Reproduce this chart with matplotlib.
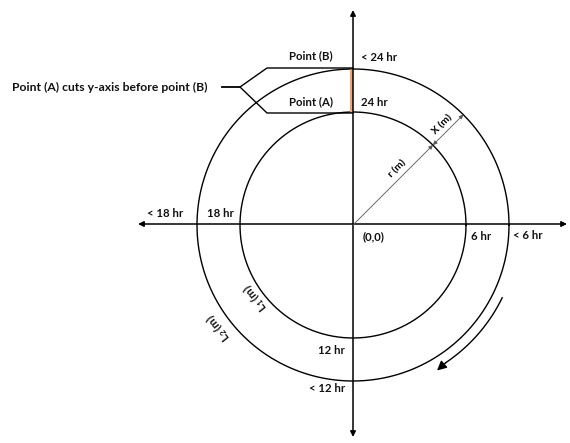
import numpy as np
import matplotlib
matplotlib.use('Agg')
import matplotlib.pyplot as plt

# circle radii (inner = 24 hr orbit, outer = < 24 hr orbit)
radii = [113, 156]
inner_hours = ['24 hr', '6 hr', '12 hr', '18 hr']
outer_hours = ['< 24 hr', '< 6 hr', '< 12 hr', '< 18 hr']
point_labels = ['Point (B)', 'Point (A)']
bracket_note = 'Point (A) cuts y-axis before point (B)'
arc_labels = ['L$_1$ (m)', 'L$_2$ (m)']
origin_label = '(0,0)'

plt.rcParams['font.family'] = ['Lato', 'DejaVu Sans']
plt.rcParams['mathtext.fontset'] = 'custom'
plt.rcParams['mathtext.rm'] = 'Lato:bold'
plt.rcParams['mathtext.it'] = 'Lato:bold'
FS = 8.2

fig = plt.figure(figsize=(5.7, 4.43), dpi=100)
ax = fig.add_axes([0, 0, 1, 1])
ax.set_xlim(-353, 217)
ax.set_ylim(-218, 225)
ax.set_aspect('equal')
ax.axis('off')

t = np.linspace(0, 2 * np.pi, 400)
for r in radii:
    ax.plot(r * np.cos(t), r * np.sin(t), color='black', lw=1.0)

# axes with arrows
ax.annotate('', xy=(214, 1), xytext=(-215, 1),
            arrowprops=dict(arrowstyle='<|-|>', mutation_scale=8, lw=1.1, color='black', shrinkA=0, shrinkB=0))
ax.annotate('', xy=(0, 215), xytext=(0, -212),
            arrowprops=dict(arrowstyle='<|-|>', mutation_scale=8, lw=1.1, color='black', shrinkA=0, shrinkB=0))

# orange gap between A and B
ax.plot([-2, -2], [radii[0], radii[1]], color='#f2a677', lw=2.2, solid_capstyle='butt')

# radius and X
c45 = np.cos(np.pi / 4)
ax.annotate('', xy=(radii[0] * c45, radii[0] * c45), xytext=(0, 0),
            arrowprops=dict(arrowstyle='-|>', mutation_scale=6, lw=0.6, color='#555555', shrinkA=0, shrinkB=0))
ax.annotate('', xy=(radii[1] * c45, radii[1] * c45), xytext=(radii[0] * c45, radii[0] * c45),
            arrowprops=dict(arrowstyle='<|-|>', mutation_scale=6, lw=0.6, color='#555555', shrinkA=0, shrinkB=0))
def along(d, p):
    return d * c45 - p * c45, d * c45 + p * c45
x, y = along(71, 8)
ax.text(x, y, 'r (m)', rotation=45, ha='center', va='center', fontsize=FS - 0.7, fontweight='bold')
x, y = along(134, 8)
ax.text(x, y, 'X (m)', rotation=45, ha='center', va='center', fontsize=FS - 0.7, fontweight='bold')

# hour labels
txt = dict(fontsize=FS, fontweight='bold', color='#111111')
ri, ro = radii
ax.text(8, ri + 10, inner_hours[0], ha='left', va='center', **txt)
ax.text(8, ro + 12, outer_hours[0], ha='left', va='center', **txt)
ax.text(ri + 5, -11, inner_hours[1], ha='left', va='center', **txt)
ax.text(ro + 4, -10, outer_hours[1], ha='left', va='center', **txt)
ax.text(-8, -ri - 12, inner_hours[2], ha='right', va='center', **txt)
ax.text(-8, -ro - 8, outer_hours[2], ha='right', va='center', **txt)
ax.text(-ri - 6, 12, inner_hours[3], ha='right', va='center', **txt)
ax.text(-ro - 14, 12, outer_hours[3], ha='right', va='center', **txt)
ax.text(10, -12, origin_label, ha='left', va='center', **txt)

# point labels and bracket
ax.text(-42, ro + 13, point_labels[0], ha='center', va='center', **txt)
ax.text(-42, ri + 10, point_labels[1], ha='center', va='center', **txt)
ax.plot([0, -86, -113, -86, 0], [ro + 1, ro + 1, 138, ri - 1, ri - 1], color='black', lw=1.0)
ax.plot([-131, -113], [138, 138], color='black', lw=1.3)
ax.text(-145, 138, bracket_note, ha='right', va='center', fontsize=FS + 0.5, fontweight='bold', color='#111111')

# arc labels
ax.text(-98, -73, arc_labels[0], rotation=128, ha='center', va='center', **txt)
ax.text(-135, -103, arc_labels[1], rotation=128, ha='center', va='center', **txt)

# clockwise arrow
a = np.radians(np.linspace(-26, -56, 60))
ax.plot(166 * np.cos(a), 166 * np.sin(a), color='black', lw=1.0)
ae = np.radians(-60)
ax.annotate('', xy=(168 * np.cos(ae), 168 * np.sin(ae)), xytext=(166 * np.cos(a[-1]), 166 * np.sin(a[-1])),
            arrowprops=dict(arrowstyle='-|>', mutation_scale=14, lw=1.0, color='black', shrinkA=0, shrinkB=0))

fig.savefig('out.png', dpi=100, facecolor='white')
